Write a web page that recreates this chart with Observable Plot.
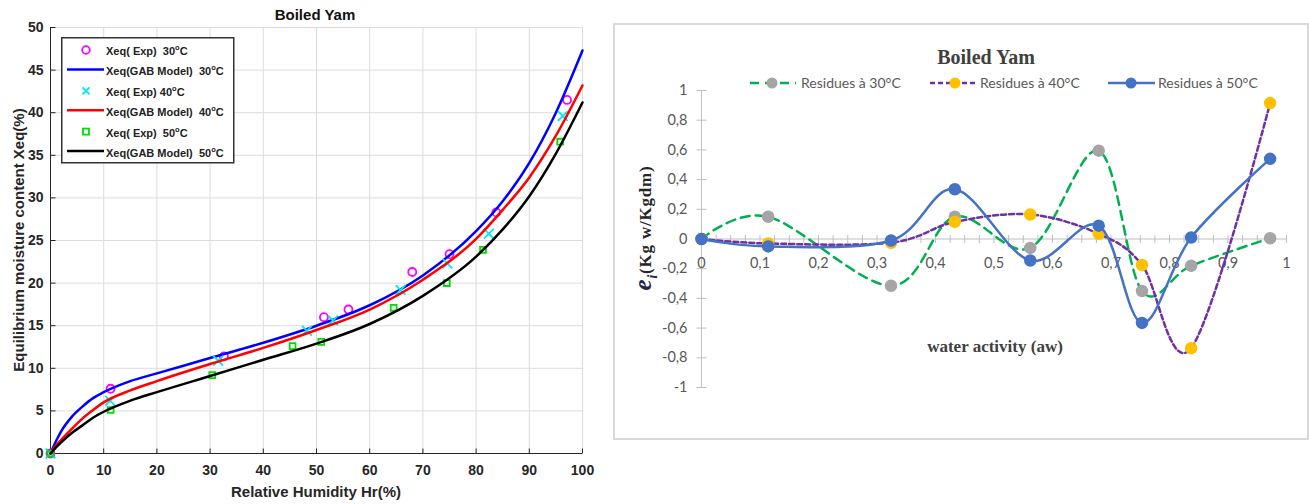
<!DOCTYPE html>
<html><head><meta charset="utf-8">
<script src="https://cdn.jsdelivr.net/npm/d3@7"></script>
<script src="https://cdn.jsdelivr.net/npm/@observablehq/plot@0.6"></script>
<style>
body{margin:0;background:#fff;}
#wrap{position:relative;width:1309px;height:504px;overflow:hidden;background:#fff;}
.abs{position:absolute;white-space:pre;}
.c{transform:translate(-50%,-50%);}
#left,#right{position:absolute;top:0;}
</style></head><body><div id="wrap"></div>
<script>
// ---------- Left chart data (Boiled Yam sorption isotherms) ----------
const hrExp30 = [0, 11.3, 32.6, 51.4, 56.0, 68.0, 75.0, 83.8, 97.1];
const xeqExp30 = [0, 7.6, 11.4, 16.0, 16.9, 21.3, 23.4, 28.3, 41.5];
const hrExp40 = [0, 11.2, 31.5, 48.2, 53.1, 65.8, 74.6, 82.4, 96.3];
const xeqExp40 = [0, 6.2, 10.9, 14.4, 15.6, 19.2, 22.3, 25.8, 39.6];
const hrExp50 = [0, 11.3, 30.4, 45.5, 50.9, 64.5, 74.5, 81.3, 95.8];
const xeqExp50 = [0, 5.1, 9.2, 12.6, 13.1, 17.1, 20.0, 23.9, 36.6];
const hrModel = [0, 1, 2, 4, 6, 8, 10, 15, 20, 30, 40, 50, 60, 70, 80, 85, 90, 95, 100];
const gab30 = [0, 1.4, 2.6, 4.3, 5.5, 6.5, 7.2, 8.5, 9.4, 11.2, 13.0, 15.0, 17.4, 20.9, 26.1, 29.6, 34.1, 40.0, 47.3];
const gab40 = [0, 0.9, 1.6, 2.9, 4.1, 5.1, 6.0, 7.4, 8.5, 10.5, 12.4, 14.5, 16.9, 20.4, 25.2, 28.6, 32.4, 37.3, 43.2];
const gab50 = [0, 0.7, 1.3, 2.4, 3.3, 4.2, 4.9, 6.2, 7.2, 9.1, 11.0, 12.9, 15.2, 18.5, 23.1, 26.3, 30.2, 35.2, 41.2];
const hrTicks = [0, 10, 20, 30, 40, 50, 60, 70, 80, 90, 100];
const xeqTicks = [0, 5, 10, 15, 20, 25, 30, 35, 40, 45, 50];
const leftLegendLabels = ["Xeq( Exp)  30", "Xeq(GAB Model)  30", "Xeq( Exp) 40", "Xeq(GAB Model)  40", "Xeq( Exp)  50", "Xeq(GAB Model)  50"];

// ---------- Right chart data (residues) ----------
const aw = [0, 0.114, 0.324, 0.433, 0.562, 0.679, 0.753, 0.837, 0.972];
const res30 = [0, 0.15, -0.315, 0.15, -0.06, 0.595, -0.35, -0.18, 0.005];
const res40 = [0, -0.03, -0.025, 0.115, 0.165, 0.035, -0.175, -0.735, 0.915];
const res50 = [0, -0.05, -0.01, 0.335, -0.145, 0.09, -0.565, 0.01, 0.54];
const awTicks = [0, 0.1, 0.2, 0.3, 0.4, 0.5, 0.6, 0.7, 0.8, 0.9, 1];
const resTicks = [-1, -0.8, -0.6, -0.4, -0.2, 0, 0.2, 0.4, 0.6, 0.8, 1];
const rightLegendLabels = ["Residues à 30°C", "Residues à 40°C", "Residues à 50°C"];

const wrap = document.getElementById("wrap");
const pairs = (xs, ys) => xs.map((x, i) => ({x, y: ys[i]}));

// custom tick symbols
const rad = s => Math.sqrt(s / Math.PI);
const vTick = {draw(c, s){const r = rad(s); c.moveTo(0, -r); c.lineTo(0, r);}};
const hTick = {draw(c, s){const r = rad(s); c.moveTo(-r, 0); c.lineTo(r, 0);}};
const upTick = {draw(c, s){const r = rad(s); c.moveTo(0, 0); c.lineTo(0, -r);}};
const rightTick = {draw(c, s){const r = rad(s); c.moveTo(0, 0); c.lineTo(r, 0);}};

// ---------- Left chart ----------
const L = "'Liberation Sans', Arial, sans-serif";
const left = Plot.plot({
  width: 610, height: 504,
  marginLeft: 50, marginRight: 28, marginTop: 27, marginBottom: 51,
  style: {fontFamily: L, background: "transparent"},
  x: {domain: [0, 100], axis: null},
  y: {domain: [0, 50], axis: null},
  marks: [
    Plot.gridX(hrTicks, {stroke: "#dcdcdc", strokeOpacity: 1}),
    Plot.gridY(xeqTicks, {stroke: "#dcdcdc", strokeOpacity: 1}),
    Plot.ruleY([0], {stroke: "#262626", strokeWidth: 1}),
    Plot.ruleX([0], {stroke: "#262626", strokeWidth: 1}),
    Plot.dot(hrTicks, {x: d => d, y: 0, symbol: upTick, r: 5, stroke: "#262626", strokeWidth: 1}),
    Plot.dot(xeqTicks, {x: 0, y: d => d, symbol: rightTick, r: 5, stroke: "#262626", strokeWidth: 1}),
    Plot.text(hrTicks, {x: d => d, y: 0, dy: 17, text: d => String(d), fontSize: 14, fontWeight: "bold", fill: "#262626"}),
    Plot.text(xeqTicks, {x: 0, y: d => d, dx: -7, text: d => String(d), textAnchor: "end", fontSize: 14, fontWeight: "bold", fill: "#262626"}),
    Plot.dot(pairs(hrExp30, xeqExp30), {x: "x", y: "y", symbol: "circle", r: 4, stroke: "#ff00ff", strokeWidth: 1.8, fill: "none"}),
    Plot.line(pairs(hrModel, gab30), {x: "x", y: "y", curve: "monotone-x", stroke: "#0000ff", strokeWidth: 2.5}),
    Plot.dot(pairs(hrExp40, xeqExp40), {x: "x", y: "y", symbol: "times", r: 4.5, stroke: "#00e8f0", strokeWidth: 1.8}),
    Plot.line(pairs(hrModel, gab40), {x: "x", y: "y", curve: "monotone-x", stroke: "#ff0000", strokeWidth: 2.5}),
    Plot.dot(pairs(hrExp50, xeqExp50), {x: "x", y: "y", symbol: "square", r: 3.3, stroke: "#00dd00", strokeWidth: 1.8, fill: "none"}),
    Plot.line(pairs(hrModel, gab50), {x: "x", y: "y", curve: "monotone-x", stroke: "#000000", strokeWidth: 2.5})
  ]
});
left.id = "left";
left.style.left = "0px";
wrap.appendChild(left);

function addDiv(html, css, cls) {
  const d = document.createElement("div");
  d.className = "abs " + (cls || "");
  d.innerHTML = html;
  d.style.cssText += css;
  wrap.appendChild(d);
  return d;
}
addDiv("Boiled Yam", `left:315px;top:14px;font:bold 15px ${L};color:#111;`, "c");
addDiv("Relative Humidity Hr(%)", `left:316px;top:491px;font:bold 15px ${L};color:#262626;`, "c");
addDiv("Equilibrium moisture content Xeq(%)", `left:18px;top:240px;font:bold 15px ${L};color:#262626;transform:translate(-50%,-50%) rotate(-90deg);`);

// left legend (svg)
const legSym = ["circle", "line", "times", "line", "square", "line"];
const legCol = ["#ff00ff", "#0000ff", "#00e8f0", "#ff0000", "#00dd00", "#000000"];
let ls = `<svg width="174" height="127" style="display:block;font:bold 11px ${L};">`;
ls += `<rect x="0.75" y="0.75" width="172" height="125" fill="#fff" stroke="#333" stroke-width="1.5"/>`;
leftLegendLabels.forEach((t, i) => {
  const y = 14 + i * 20.4;
  const s = legSym[i], col = legCol[i];
  if (s === "circle") ls += `<circle cx="25" cy="${y - 1}" r="3.8" fill="none" stroke="${col}" stroke-width="1.8"/>`;
  if (s === "times") ls += `<path d="M21.5 ${y - 4.5}L28.5 ${y + 2.5}M28.5 ${y - 4.5}L21.5 ${y + 2.5}" stroke="${col}" stroke-width="1.8"/>`;
  if (s === "square") ls += `<rect x="22" y="${y - 4}" width="6" height="6" fill="none" stroke="${col}" stroke-width="1.8"/>`;
  if (s === "line") ls += `<line x1="6" x2="43" y1="${y - 2}" y2="${y - 2}" stroke="${col}" stroke-width="2.5"/>`;
  ls += `<text x="45" y="${y + 4}" fill="#222" style="white-space:pre">${t}<tspan dy="-5" font-size="7.5">o</tspan><tspan dy="5">C</tspan></text>`;
});
ls += `</svg>`;
addDiv(ls, "left:61px;top:37px;");

// ---------- Right chart ----------
const F = "Lato, 'Open Sans', sans-serif";
const S = "'Liberation Serif', 'Times New Roman', serif";
const fmt = d => String(d).replace(".", ",");
const right = Plot.plot({
  width: 696, height: 417,
  marginLeft: 88, marginRight: 23, marginTop: 67, marginBottom: 53,
  style: {fontFamily: F, background: "transparent"},
  x: {domain: [0, 1], axis: null},
  y: {domain: [-1, 1], axis: null},
  marks: [
    Plot.ruleX([0], {y1: -1, y2: 1, stroke: "#bfbfbf", strokeWidth: 1}),
    Plot.dot(resTicks, {x: 0, y: d => d, symbol: hTick, r: 5, stroke: "#bfbfbf", strokeWidth: 1}),
    Plot.ruleY([0], {x1: 0, x2: 1, stroke: "#bfbfbf", strokeWidth: 1}),
    Plot.dot(d3.range(0, 1.0001, 0.025), {x: d => d, y: 0, symbol: vTick, r: 4, stroke: "#bfbfbf", strokeWidth: 1}),
    Plot.text(resTicks, {x: 0, y: d => d, dx: -14, text: fmt, textAnchor: "end", fontSize: 14.5, fill: "#595959"}),
    Plot.text(awTicks, {x: d => d, y: 0, dy: 24, text: fmt, fontSize: 14.5, fill: "#595959"}),
    Plot.line(pairs(aw, res30), {x: "x", y: "y", curve: "cardinal", stroke: "#00b050", strokeWidth: 2.5, strokeDasharray: "9,6"}),
    Plot.dot(pairs(aw, res30), {x: "x", y: "y", r: 5.5, fill: "#a5a5a5", stroke: "#a5a5a5"}),
    Plot.line(pairs(aw, res40), {x: "x", y: "y", curve: "cardinal", stroke: "#7030a0", strokeWidth: 2.5, strokeDasharray: "5,3"}),
    Plot.dot(pairs(aw, res40), {x: "x", y: "y", r: 5.5, fill: "#ffc000", stroke: "#ffc000"}),
    Plot.line(pairs(aw, res50), {x: "x", y: "y", curve: "cardinal", stroke: "#4472c4", strokeWidth: 2.5}),
    Plot.dot(pairs(aw, res50), {x: "x", y: "y", r: 5.5, fill: "#4472c4", stroke: "#4472c4"})
  ]
});
right.id = "right";
right.style.left = "613px";
right.style.top = "23px";
wrap.appendChild(right);
addDiv("", "left:613px;top:23px;width:696px;height:417px;box-sizing:border-box;border:2px solid #d9d9d9;");

addDiv("Boiled Yam", `left:986px;top:57px;font:bold 20px ${S};color:#404040;`, "c");
addDiv("water activity (aw)", `left:995px;top:347px;font:bold 17px ${S};color:#404040;`, "c");
addDiv(`<span style="font-style:italic;font-size:25px;color:#1f2a4a;">e<sub style="font-size:14px;">i</sub></span>(Kg w/Kgdm)`,
  `left:645px;top:228px;font:bold 17px ${S};letter-spacing:0.8px;color:#262626;transform:translate(-50%,-50%) rotate(-90deg);`);

// right legend
let rs = `<svg width="560" height="24" style="display:block;font:14px ${F};">`;
const rItems = [
  {x0: 10, x1: 56, dot: 32, tx: 61, stroke: "#00b050", dash: "9,6", fill: "#a5a5a5"},
  {x0: 190, x1: 238, dot: 215, tx: 240, stroke: "#7030a0", dash: "5,3", fill: "#ffc000"},
  {x0: 368, x1: 415, dot: 391, tx: 418, stroke: "#4472c4", dash: "none", fill: "#4472c4"}
];
rItems.forEach((it, i) => {
  rs += `<line x1="${it.x0}" x2="${it.x1}" y1="12" y2="12" stroke="${it.stroke}" stroke-width="2.5" stroke-dasharray="${it.dash}"/>`;
  rs += `<circle cx="${it.dot}" cy="12" r="5.5" fill="${it.fill}"/>`;
  rs += `<text x="${it.tx}" y="17" fill="#595959">${rightLegendLabels[i]}</text>`;
});
rs += `</svg>`;
addDiv(rs, "left:740px;top:71px;");
</script>
</body></html>
